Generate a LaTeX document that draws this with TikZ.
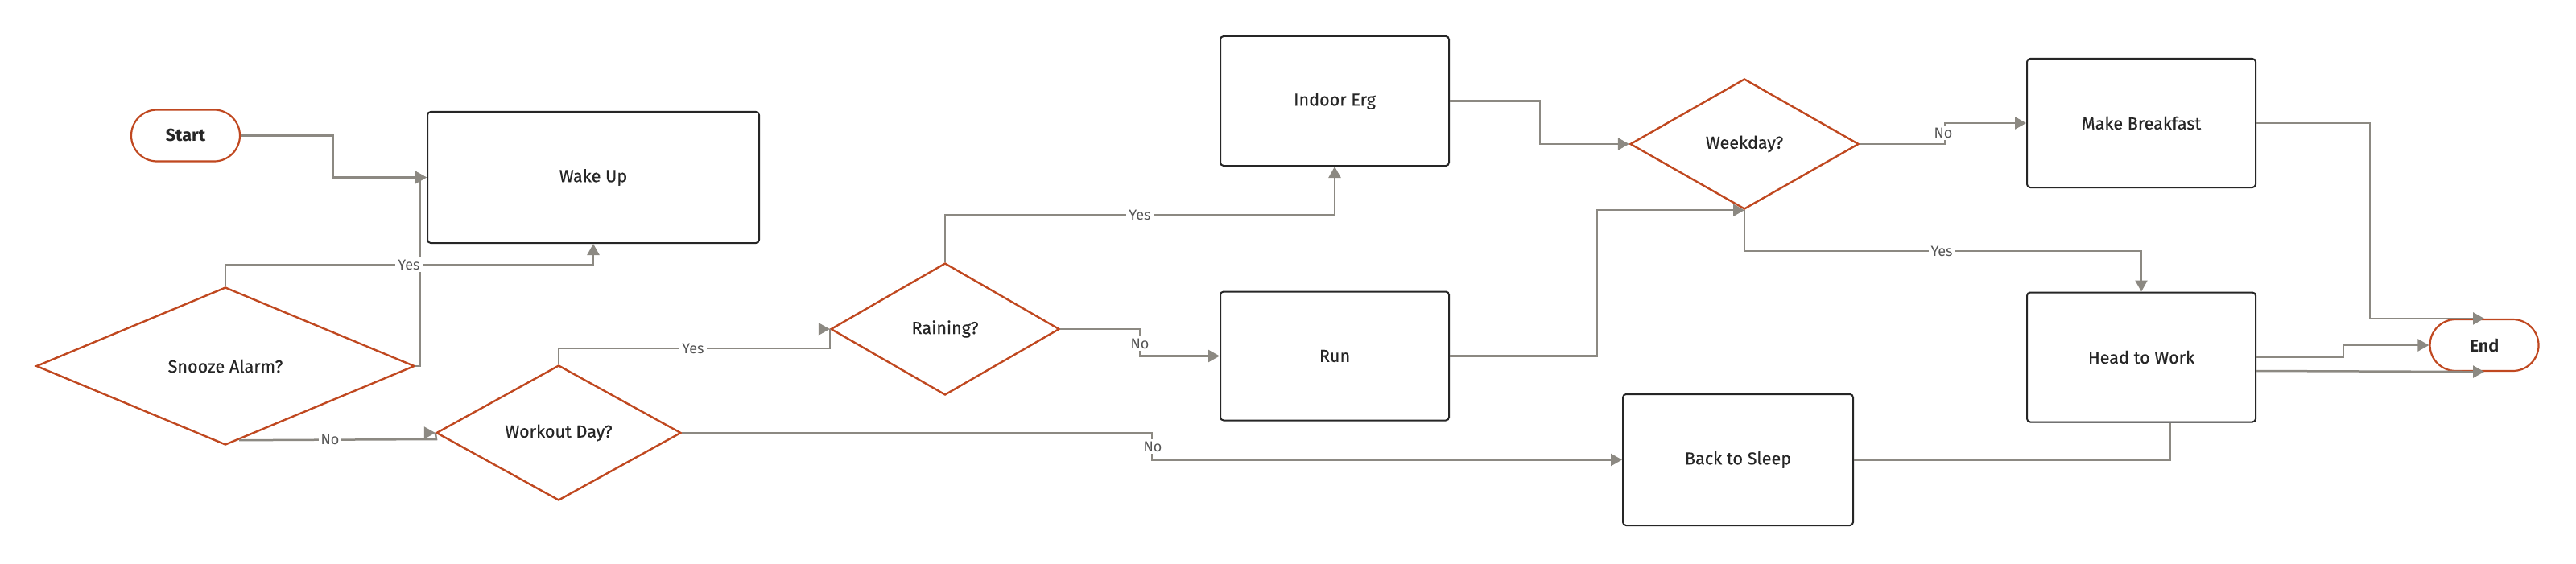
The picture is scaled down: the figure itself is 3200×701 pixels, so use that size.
\documentclass[tikz,border=0pt]{standalone}
\usepackage{fontspec}
\setmainfont{Fira Sans}
\newfontfamily\medfont{Fira Sans}[FakeBold=0.3]
\usetikzlibrary{shapes.geometric,arrows.meta,calc}
\definecolor{dec}{RGB}{192,72,32}
\definecolor{conn}{RGB}{140,137,130}
\definecolor{txt}{RGB}{38,38,38}
\definecolor{lbltxt}{RGB}{85,85,85}
\tikzset{
  box/.style={draw=txt, line width=1pt, rounded corners=2pt, fill=white, text=txt,
    font=\medfont\fontsize{10.8}{12}\selectfont, inner sep=0pt},
  dia/.style={diamond, draw=dec, line width=1.2pt, fill=white, text=txt,
    font=\medfont\fontsize{10.8}{12}\selectfont, inner sep=0pt},
  term/.style={draw=dec, line width=1.1pt, rounded corners=16pt, fill=white, text=txt,
    font=\fontsize{10.8}{12}\selectfont\bfseries, inner sep=0pt,
    minimum width=67.5pt, minimum height=32pt},
  ln/.style={draw=conn, line width=1.25pt},
  arr/.style={ln, -{Triangle[length=7pt,width=7.5pt]}},
  lbl/.style={fill=white, text=lbltxt, font=\fontsize{9}{10}\selectfont, inner sep=1.5pt}
}
\begin{document}
\begin{tikzpicture}[x=0.5pt,y=-0.5pt]
\useasboundingbox (0,0) rectangle (3200,701);
% nodes
\node[term] (start) at (230.5,168.5) {Start};
\node[box, minimum width=206pt, minimum height=81.5pt] (wake) at (737,220.5) {Wake Up};
\node[dia, minimum width=235pt, minimum height=98pt] (snooze) at (280,455) {Snooze Alarm?};
\node[dia, minimum width=152pt, minimum height=84pt] (workout) at (694,538) {Workout Day?};
\node[dia, minimum width=142pt, minimum height=82pt] (raining) at (1174,409) {Raining?};
\node[box, minimum width=142pt, minimum height=80.5pt] (indoor) at (1658,125.5) {Indoor Erg};
\node[box, minimum width=142pt, minimum height=80pt] (run) at (1658,442.5) {Run};
\node[dia, minimum width=142pt, minimum height=81pt] (weekday) at (2167,179) {Weekday?};
\node[box, minimum width=142pt, minimum height=80pt] (mb) at (2660,153) {Make Breakfast};
\node[box, minimum width=142pt, minimum height=80.5pt] (htw) at (2660,444) {Head to Work};
\node[box, minimum width=143pt, minimum height=81.5pt] (sleep) at (2159,571.5) {Back to Sleep};
\node[term] (end) at (3086,429) {End};
% connectors
\draw[arr] (start.east) -- (414,168.5) |- (wake.west);
\draw[arr] (snooze.north) -- (280,329) -| (wake.south);
\draw[arr] (snooze.east) -- (522,455) |- (wake.west);
\draw[ln] ($(snooze.south)+(17,-7)$) -- (542,546) -- (workout.west);
\draw[arr] ($(workout.west)+(-2,0)$) -- (workout.west);
\draw[ln] (workout.north) -- (694,433) -| (raining.west);
\draw[arr] ($(raining.west)+(-2,0)$) -- (raining.west);
\draw[arr] (workout.east) -- (1431,538) |- (sleep.west);
\draw[arr] (raining.north) -- (1174,267) -| (indoor.south);
\draw[arr] (raining.east) -- (1416,409) |- (run.west);
\draw[arr] (indoor.east) -- (1913,125.5) |- (weekday.west);
\draw[arr] (run.east) -- (1984,442.5) |- (weekday.south);
\draw[arr] (weekday.east) -- (2416,179) |- (mb.west);
\draw[arr] (weekday.south) -- (2167,312) -| (htw.north);
\draw[arr] (mb.east) -- (2944,153) |- (end.north);
\draw[arr] (htw.east) -- (2911,444) |- (end.west);
\draw[arr] ($(htw.east)+(0,17)$) -- (end.south);
\draw[ln] (sleep.east) -| ($(htw.south)+(36,0)$);
% labels
\node[lbl] (l1) at (508,329) {Yes};
\node[lbl] (l2) at (410,546) {No};
\node[lbl] (l3) at (861,433) {Yes};
\node[lbl] (l4) at (1432,555) {No};
\node[lbl] (l5) at (1416,267) {Yes};
\node[lbl] (l6) at (1416,427) {No};
\node[lbl] (l7) at (2414,165) {No};
\node[lbl] (l8) at (2412,312) {Yes};
\end{tikzpicture}
\end{document}
